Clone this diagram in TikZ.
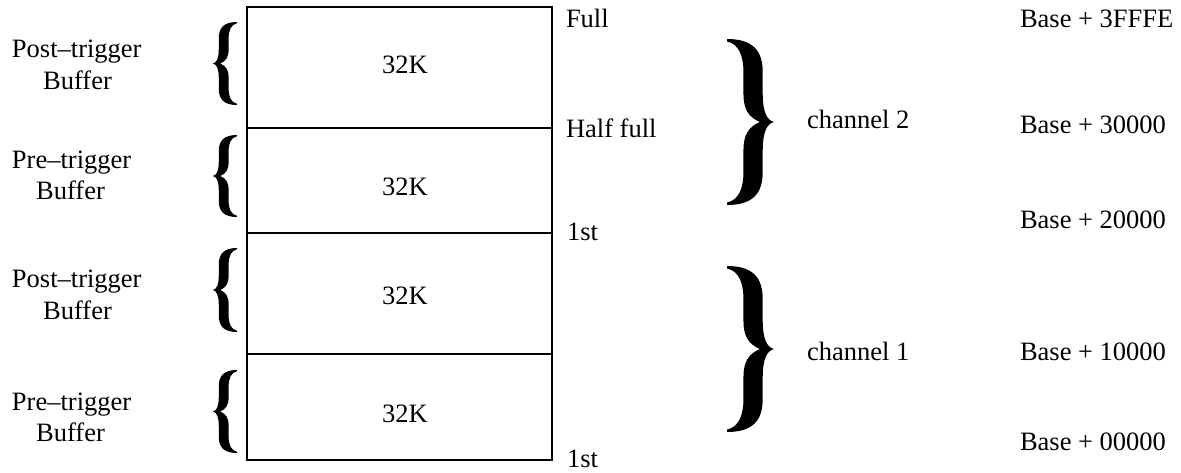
\documentclass[tikz,border=0pt]{standalone}
\usepackage{fontspec}
\setmainfont{Liberation Serif}
\newcommand\bracefillpath{%
 (0,0) .. controls (0.55,0) and (0.76,0.07) .. (0.76,0.2) -- (0.76,0.33)
 .. controls (0.76,0.44) and (0.85,0.49) .. (1,0.5)
 .. controls (0.85,0.51) and (0.76,0.56) .. (0.76,0.67) -- (0.76,0.8)
 .. controls (0.76,0.93) and (0.55,1) .. (0,1)
 -- (0,0.985) .. controls (0.25,0.97) and (0.35,0.9) .. (0.35,0.8) -- (0.35,0.67)
 .. controls (0.35,0.58) and (0.45,0.53) .. (0.7,0.5)
 .. controls (0.45,0.47) and (0.35,0.42) .. (0.35,0.33) -- (0.35,0.2)
 .. controls (0.35,0.1) and (0.25,0.03) .. (0,0.015) -- cycle}
\tikzset{
  lbl/.style={inner sep=0pt, outer sep=0pt, font=\fontsize{26.5}{31}\selectfont},
  boxline/.style={line width=1.9pt, black},
}
\begin{document}
\begin{tikzpicture}[x=1pt,y=-1pt]
\useasboundingbox (0,0) rectangle (1181,472);
% memory blocks
\coordinate (tl) at (247,7);
\coordinate (br) at (552,460);
\draw[boxline] (tl) rectangle (br);
\draw[boxline] (247,128) -- (552,128);
\draw[boxline] (247,233) -- (552,233);
\draw[boxline] (247,354) -- (552,354);
\node[lbl,anchor=base] (k4) at (405,73) {32K};
\node[lbl,anchor=base] (k3) at (405,195) {32K};
\node[lbl,anchor=base] (k2) at (405,304) {32K};
\node[lbl,anchor=base] (k1) at (405,422) {32K};
% left labels
\node[lbl,anchor=base west] (pt4) at (12,57) {Post–trigger};
\node[lbl,anchor=base] (bf4) at (77.5,89) {Buffer};
\node[lbl,anchor=base west] (pr3) at (12,168) {Pre–trigger};
\node[lbl,anchor=base] (bf3) at (70.5,199) {Buffer};
\node[lbl,anchor=base west] (pt2) at (12,287) {Post–trigger};
\node[lbl,anchor=base] (bf2) at (77.5,319) {Buffer};
\node[lbl,anchor=base west] (pr1) at (12,410) {Pre–trigger};
\node[lbl,anchor=base] (bf1) at (70.5,441) {Buffer};
% left braces
\foreach \ya/\h in {22/83,135/82,248/84,370/83}{
  \begin{scope}[xshift=237pt,yshift=-\ya pt,x=-24pt,y=-\h pt]
    \fill \bracefillpath;
  \end{scope}
}
% right braces
\begin{scope}[xshift=727pt,yshift=-39pt,x=47pt,y=-166pt]
  \fill \bracefillpath;
\end{scope}
\begin{scope}[xshift=727pt,yshift=-266pt,x=47pt,y=-166pt]
  \fill \bracefillpath;
\end{scope}
% right labels
\node[lbl,anchor=base west] (full) at (566,27) {Full};
\node[lbl,anchor=base west] (half) at (566,137) {Half full};
\node[lbl,anchor=base west] (st2) at (567,240) {1st};
\node[lbl,anchor=base west] (st1) at (567,467) {1st};
\node[lbl,anchor=base west] (ch2) at (807,128) {channel 2};
\node[lbl,anchor=base west] (ch1) at (807,360) {channel 1};
\node[lbl,anchor=base west] (a4) at (1020,27) {Base + 3FFFE};
\node[lbl,anchor=base west] (a3) at (1020,133) {Base + 30000};
\node[lbl,anchor=base west] (a2) at (1020,228) {Base + 20000};
\node[lbl,anchor=base west] (a1) at (1020,360) {Base + 10000};
\node[lbl,anchor=base west] (a0) at (1020,450) {Base + 00000};
\end{tikzpicture}
\end{document}
